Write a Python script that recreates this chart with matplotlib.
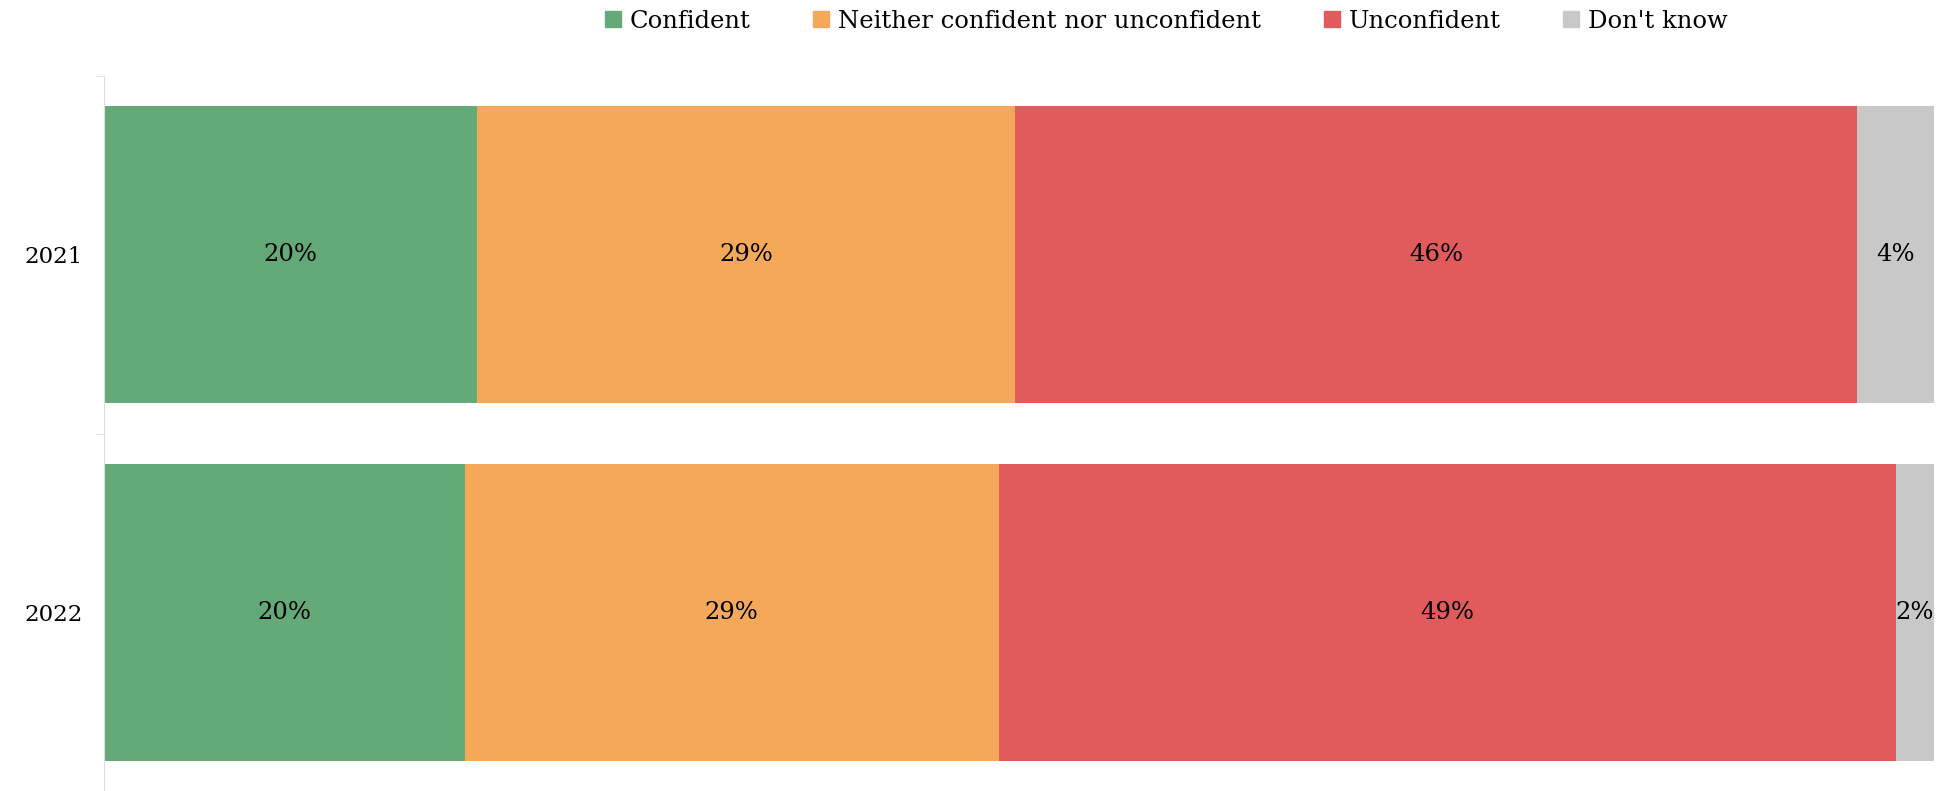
import matplotlib.pyplot as plt
from matplotlib.lines import Line2D
import numpy as np

years = ['2021', '2022']
categories = ['Confident', 'Neither confident nor unconfident', 'Unconfident', "Don't know"]
confident = [20.4, 19.7]
neither = [29.4, 29.2]
unconfident = [46.0, 49.0]
dont_know = [4.2, 2.1]
colors = ['#63AA78', '#F5A958', '#E15A5C', '#C8C8C8']

plt.rcParams['font.family'] = ['DejaVu Serif']

fig = plt.figure(figsize=(19.36, 7.91), dpi=100)
ax = fig.add_axes([104 / 1936, 0.0, 1830 / 1936, 1 - 76 / 791])

y = np.arange(len(years))
left = np.zeros(len(years))
for series, color in zip([confident, neither, unconfident, dont_know], colors):
    vals = np.array(series)
    ax.barh(y, vals, left=left, height=0.83, color=color)
    for yi, l, v in zip(y, left, vals):
        ax.text(l + v / 2, yi, f'{v:.0f}%', ha='center', va='center', fontsize=17.5, color='black')
    left += vals

ax.set_xlim(0, 100)
ax.set_ylim(1.5, -0.5)
ax.set_yticks(y)
ax.set_yticklabels(years, fontsize=16.5)
ax.tick_params(axis='y', length=0, pad=15)
ax.set_yticks([-0.5, 0.5], minor=True)
ax.tick_params(axis='y', which='minor', length=6, color='#DDDDDD')
ax.xaxis.set_visible(False)
for s in ['top', 'right', 'bottom']:
    ax.spines[s].set_visible(False)
ax.spines['left'].set_color('#DDDDDD')

handles = [Line2D([], [], marker='s', linestyle='none', markersize=11,
                  markerfacecolor=c, markeredgecolor=c) for c in colors]
fig.legend(handles, categories, loc='center', bbox_to_anchor=(0.602, 1 - 21 / 791), ncol=4,
           frameon=False, fontsize=17.5, handlelength=0.8, handletextpad=0.3, columnspacing=2.5)

fig.savefig('out.png', dpi=100)
